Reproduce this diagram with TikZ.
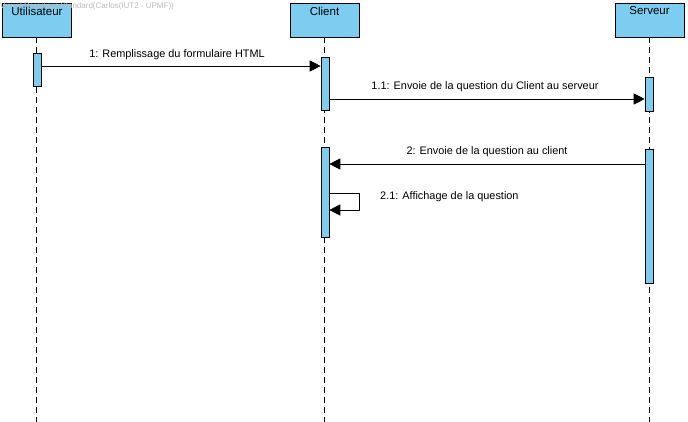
\documentclass[tikz,border=0pt]{standalone}
\usepackage{fontspec}
\setmainfont{Liberation Sans}
\usetikzlibrary{arrows.meta}
\begin{document}
\begin{tikzpicture}[x=1pt,y=-1pt,
  lifebox/.style={draw=black,fill=boxblue,line width=0.6pt,minimum width=69pt,minimum height=34pt,inner sep=0pt},
  actbox/.style={draw=black,fill=boxblue,line width=0.6pt,minimum width=8pt,inner sep=0pt},
  lifeline/.style={dash pattern=on 6pt off 4pt,line width=0.6pt},
  msg/.style={line width=0.7pt,-{Triangle[length=11pt,width=11pt]}},
  lbl/.style={font=\fontsize{10.9}{12}\selectfont,inner sep=0pt},
  ttl/.style={font=\fontsize{11.5}{13}\selectfont,inner sep=0pt}]
\definecolor{boxblue}{RGB}{125,205,240}
\useasboundingbox (0,0) rectangle (688,422);
% lifelines
\draw[lifeline] (36.5,37) -- (36.5,422);
\draw[lifeline] (324.5,37) -- (324.5,422);
\draw[lifeline] (649,37) -- (649,422);
% heads
\node[lifebox] (u) at (37,20) {};
\node[lifebox] (c) at (324.5,20) {};
\node[lifebox] (s) at (649.5,20) {};
\node[anchor=west,inner sep=0pt,text=gray!55,font=\fontsize{8}{9}\selectfont] (wm) at (0,6) {Visual Paradigm Standard(Carlos(IUT2 - UPMF))};
\node[ttl] (ut) at (37,11) {Utilisateur};
\node[ttl] (ct) at (324.5,11) {Client};
\node[ttl] (st) at (649.5,11) {Serveur};
% activations
\node[actbox,minimum height=33pt] (ua) at (37,69.5) {};
\node[actbox,minimum height=53pt] (ca1) at (325,83.5) {};
\node[actbox,minimum height=34pt] (sa1) at (649,94) {};
\node[actbox,minimum height=90pt] (ca2) at (325,192) {};
\node[actbox,minimum height=134pt] (sa2) at (649,216) {};
% messages
\coordinate (m1a) at (ua.east |- 0,66);
\coordinate (m1b) at (ca1.west |- 0,66);
\draw[msg] (m1a) -- (m1b);
\node[lbl] (l1) at (177,55) {1: Remplissage du formulaire HTML};
\coordinate (m11a) at (ca1.east |- 0,99);
\coordinate (m11b) at (sa1.west |- 0,99);
\draw[msg] (m11a) -- (m11b);
\node[lbl] (l11) at (485,87) {1.1: Envoie de la question du Client au serveur};
\coordinate (m2a) at (sa2.west |- 0,164);
\coordinate (m2b) at (ca2.east |- 0,164);
\draw[msg] (m2a) -- (m2b);
\node[lbl] (l2) at (487,152) {2: Envoie de la question au client};
\coordinate (m21a) at (ca2.east |- 0,193);
\coordinate (m21b) at (ca2.east |- 0,210);
\draw[msg] (m21a) -- ++(30,0) |- (m21b);
\node[lbl,anchor=west] (l21) at (380,197) {2.1: Affichage de la question};
\end{tikzpicture}
\end{document}
